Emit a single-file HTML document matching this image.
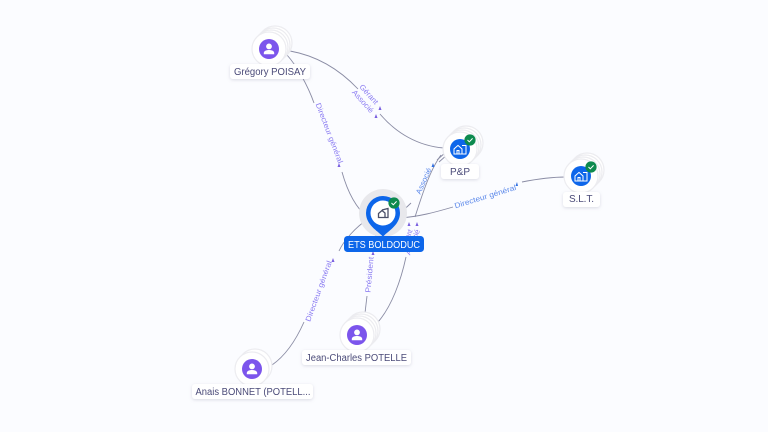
<!DOCTYPE html>
<html><head><meta charset="utf-8"><style>
html,body{margin:0;padding:0;background:#fbfcff}
svg{display:block}
text{font-family:"Liberation Sans",sans-serif}
.n{font-size:10px;fill:#4a4a78;text-anchor:middle}
.e{font-size:7.500px;fill:#7d6cf0;text-anchor:middle;opacity:.9}
.b{fill:#4a7ce8}
.l{fill:none;stroke:#8a8ca4;stroke-width:.9}
.s{fill:#fff;stroke:#ececf0;stroke-width:1.2}
.lb{fill:#fff}
</style></head><body>
<svg width="768" height="432" viewBox="0 0 768 432" xmlns="http://www.w3.org/2000/svg">
<defs>
<filter id="sh" x="-30%" y="-50%" width="160%" height="220%"><feDropShadow dx="0" dy="1" stdDeviation="1.500" flood-color="#9090a8" flood-opacity=".3"/></filter>
<g id="person"><circle r="10" fill="#7c55ec"/><circle cy="-2.600" r="2.900" fill="#fff"/><path d="M-5.200 5.200v-1.200c0-2 2.500-3 5.200-3s5.200 1 5.200 3v1.200z" fill="#fff"/></g>
<g id="org"><circle r="10" fill="#0d66ea"/><path d="M-6 5V0l4-3.600L2 0v5zM2-3.500h4V5H2" fill="none" stroke="#fff" stroke-width="1"/><path d="M-3 5V1.500h2V5" fill="none" stroke="#fff" stroke-width="1"/></g>
<g id="chk"><circle r="5.600" fill="#0d8a4e"/><path d="M-2.500 0l1.800 1.800L2.600-1.600" fill="none" stroke="#fff" stroke-width="1"/></g>
</defs>
<rect width="768" height="432" fill="#fbfcff"/>

<!-- edges -->
<path class="l" d="M290 51C318 56 340 70 358 89"/>
<path class="l" d="M380 114C396 133 418 146 444 148"/>
<path class="l" d="M287 55C297 66 308 86 314 103"/>
<path class="l" d="M342 172C347 190 355 207 368 218"/>
<path class="l" d="M398 214C404 210 408 206 411 203"/>
<path class="l" d="M437 160L446 152M439 162L448 154"/>
<path class="l" d="M378 322C392 306 401 280 406 257"/>
<path class="l" d="M415 217C422 195 430 170 441 155"/>
<path class="l" d="M399 218C418 217 436 212 453 207"/>
<path class="l" d="M522 182C537 179 551 177 566 177"/>
<path class="l" d="M365 313L367 296"/>
<path class="l" d="M376 252L376 228"/>
<path class="l" d="M272 365C285 356 296 340 304 322"/>
<path class="l" d="M339 251C344 240 356 227 368 219"/>

<!-- edge labels -->
<text class="e" transform="translate(367 96) rotate(48)" textLength="24" lengthAdjust="spacingAndGlyphs">Gérant</text>
<text class="e" transform="translate(361 103) rotate(48)" textLength="28" lengthAdjust="spacingAndGlyphs">Associé</text>
<path d="M380 106l1.500 4h-3zM376 114l1.500 4h-3z" fill="#7a5fe0"/>
<text class="e" transform="translate(327 134) rotate(69)" textLength="64" lengthAdjust="spacingAndGlyphs">Directeur général</text>
<path d="M339 163l1.500 4h-3z" fill="#7a5fe0"/>
<text class="e b" transform="translate(426 182) rotate(-66)" textLength="28" lengthAdjust="spacingAndGlyphs">Associé</text>
<path d="M433 163l1.500 4h-3z" fill="#2f6fe0"/>
<text class="e" transform="translate(415 243) rotate(-68)" textLength="27" lengthAdjust="spacingAndGlyphs">Associé</text>
<text class="e" transform="translate(409 240) rotate(-68)" textLength="20" lengthAdjust="spacingAndGlyphs">Gérant</text>
<path d="M409 222l1.500 4h-3zM417 222l1.500 4h-3z" fill="#7a5fe0"/>
<text class="e b" transform="translate(486 199) rotate(-17)" textLength="64" lengthAdjust="spacingAndGlyphs">Directeur général</text>
<path d="M517 182l1 4h-2.500z" fill="#2f6fe0"/>
<text class="e" transform="translate(372 275) rotate(-85)" textLength="36" lengthAdjust="spacingAndGlyphs">Président</text>
<path d="M373 251l1.500 4h-3z" fill="#7a5fe0"/>
<text class="e" transform="translate(321 292) rotate(-70)" textLength="64" lengthAdjust="spacingAndGlyphs">Directeur général</text>
<path d="M333 258l1.500 4h-3z" fill="#7a5fe0"/>

<!-- Grégory -->
<circle class="s" cx="275" cy="43" r="17"/><circle class="s" cx="273" cy="45" r="17"/><circle class="s" cx="271" cy="47" r="17"/><circle class="s" cx="269" cy="49" r="17"/>
<use href="#person" x="269" y="49"/>
<rect class="lb" x="230" y="64" width="80" height="15" rx="3" filter="url(#sh)"/>
<text class="n" x="270" y="75" textLength="72" lengthAdjust="spacingAndGlyphs">Grégory POISAY</text>

<!-- P&P -->
<circle class="s" cx="466" cy="143" r="17"/><circle class="s" cx="464" cy="145" r="17"/><circle class="s" cx="462" cy="147" r="17"/><circle class="s" cx="460" cy="149" r="17"/>
<use href="#org" x="460" y="149"/><use href="#chk" x="470" y="140"/>
<rect class="lb" x="441" y="164" width="38" height="15" rx="3" filter="url(#sh)"/>
<text class="n" x="460" y="175">P&amp;P</text>

<!-- S.L.T. -->
<circle class="s" cx="587" cy="170" r="17"/><circle class="s" cx="585" cy="172" r="17"/><circle class="s" cx="583" cy="174" r="17"/><circle class="s" cx="581" cy="176" r="17"/>
<use href="#org" x="581" y="176"/><use href="#chk" x="591" y="167"/>
<rect class="lb" x="563" y="192" width="37" height="15" rx="3" filter="url(#sh)"/>
<text class="n" x="581.500" y="202" textLength="25" lengthAdjust="spacing">S.L.T.</text>

<!-- Jean-Charles -->
<circle class="s" cx="363" cy="329" r="17"/><circle class="s" cx="361" cy="331" r="17"/><circle class="s" cx="359" cy="333" r="17"/><circle class="s" cx="357" cy="335" r="17"/>
<use href="#person" x="357" y="335"/>
<rect class="lb" x="302" y="350" width="109" height="15" rx="3" filter="url(#sh)"/>
<text class="n" x="356.500" y="361" textLength="101" lengthAdjust="spacingAndGlyphs">Jean-Charles POTELLE</text>

<!-- Anais -->
<circle class="s" cx="255" cy="366" r="17"/><circle class="s" cx="252" cy="369" r="17"/>
<use href="#person" x="252" y="369"/>
<rect class="lb" x="192" y="384" width="121" height="15" rx="3" filter="url(#sh)"/>
<text class="n" x="253" y="395" textLength="115" lengthAdjust="spacingAndGlyphs">Anais BONNET (POTELL...</text>

<!-- ETS -->
<circle cx="383" cy="213" r="24" fill="#e8e8ec"/>
<path d="M383 237C380 232 366 226 366 213a17 17 0 0 1 34 0C400 226 386 232 383 237z" fill="#0d66ea"/>
<circle cx="383" cy="213" r="12.500" fill="#fff"/>
<path d="M378.500 217.500v-4l3.500-3 3 2.500v4.500zM382 210l6-1.500v9h-3" fill="none" stroke="#4a4f68" stroke-width="1.300"/>
<use href="#chk" x="394" y="203"/>
<rect x="344" y="236" width="80" height="16" rx="3.500" fill="#0d66ea"/>
<text x="384" y="248" font-size="10" fill="#fff" text-anchor="middle" textLength="72" lengthAdjust="spacingAndGlyphs">ETS BOLDODUC</text>
</svg>
</body></html>
